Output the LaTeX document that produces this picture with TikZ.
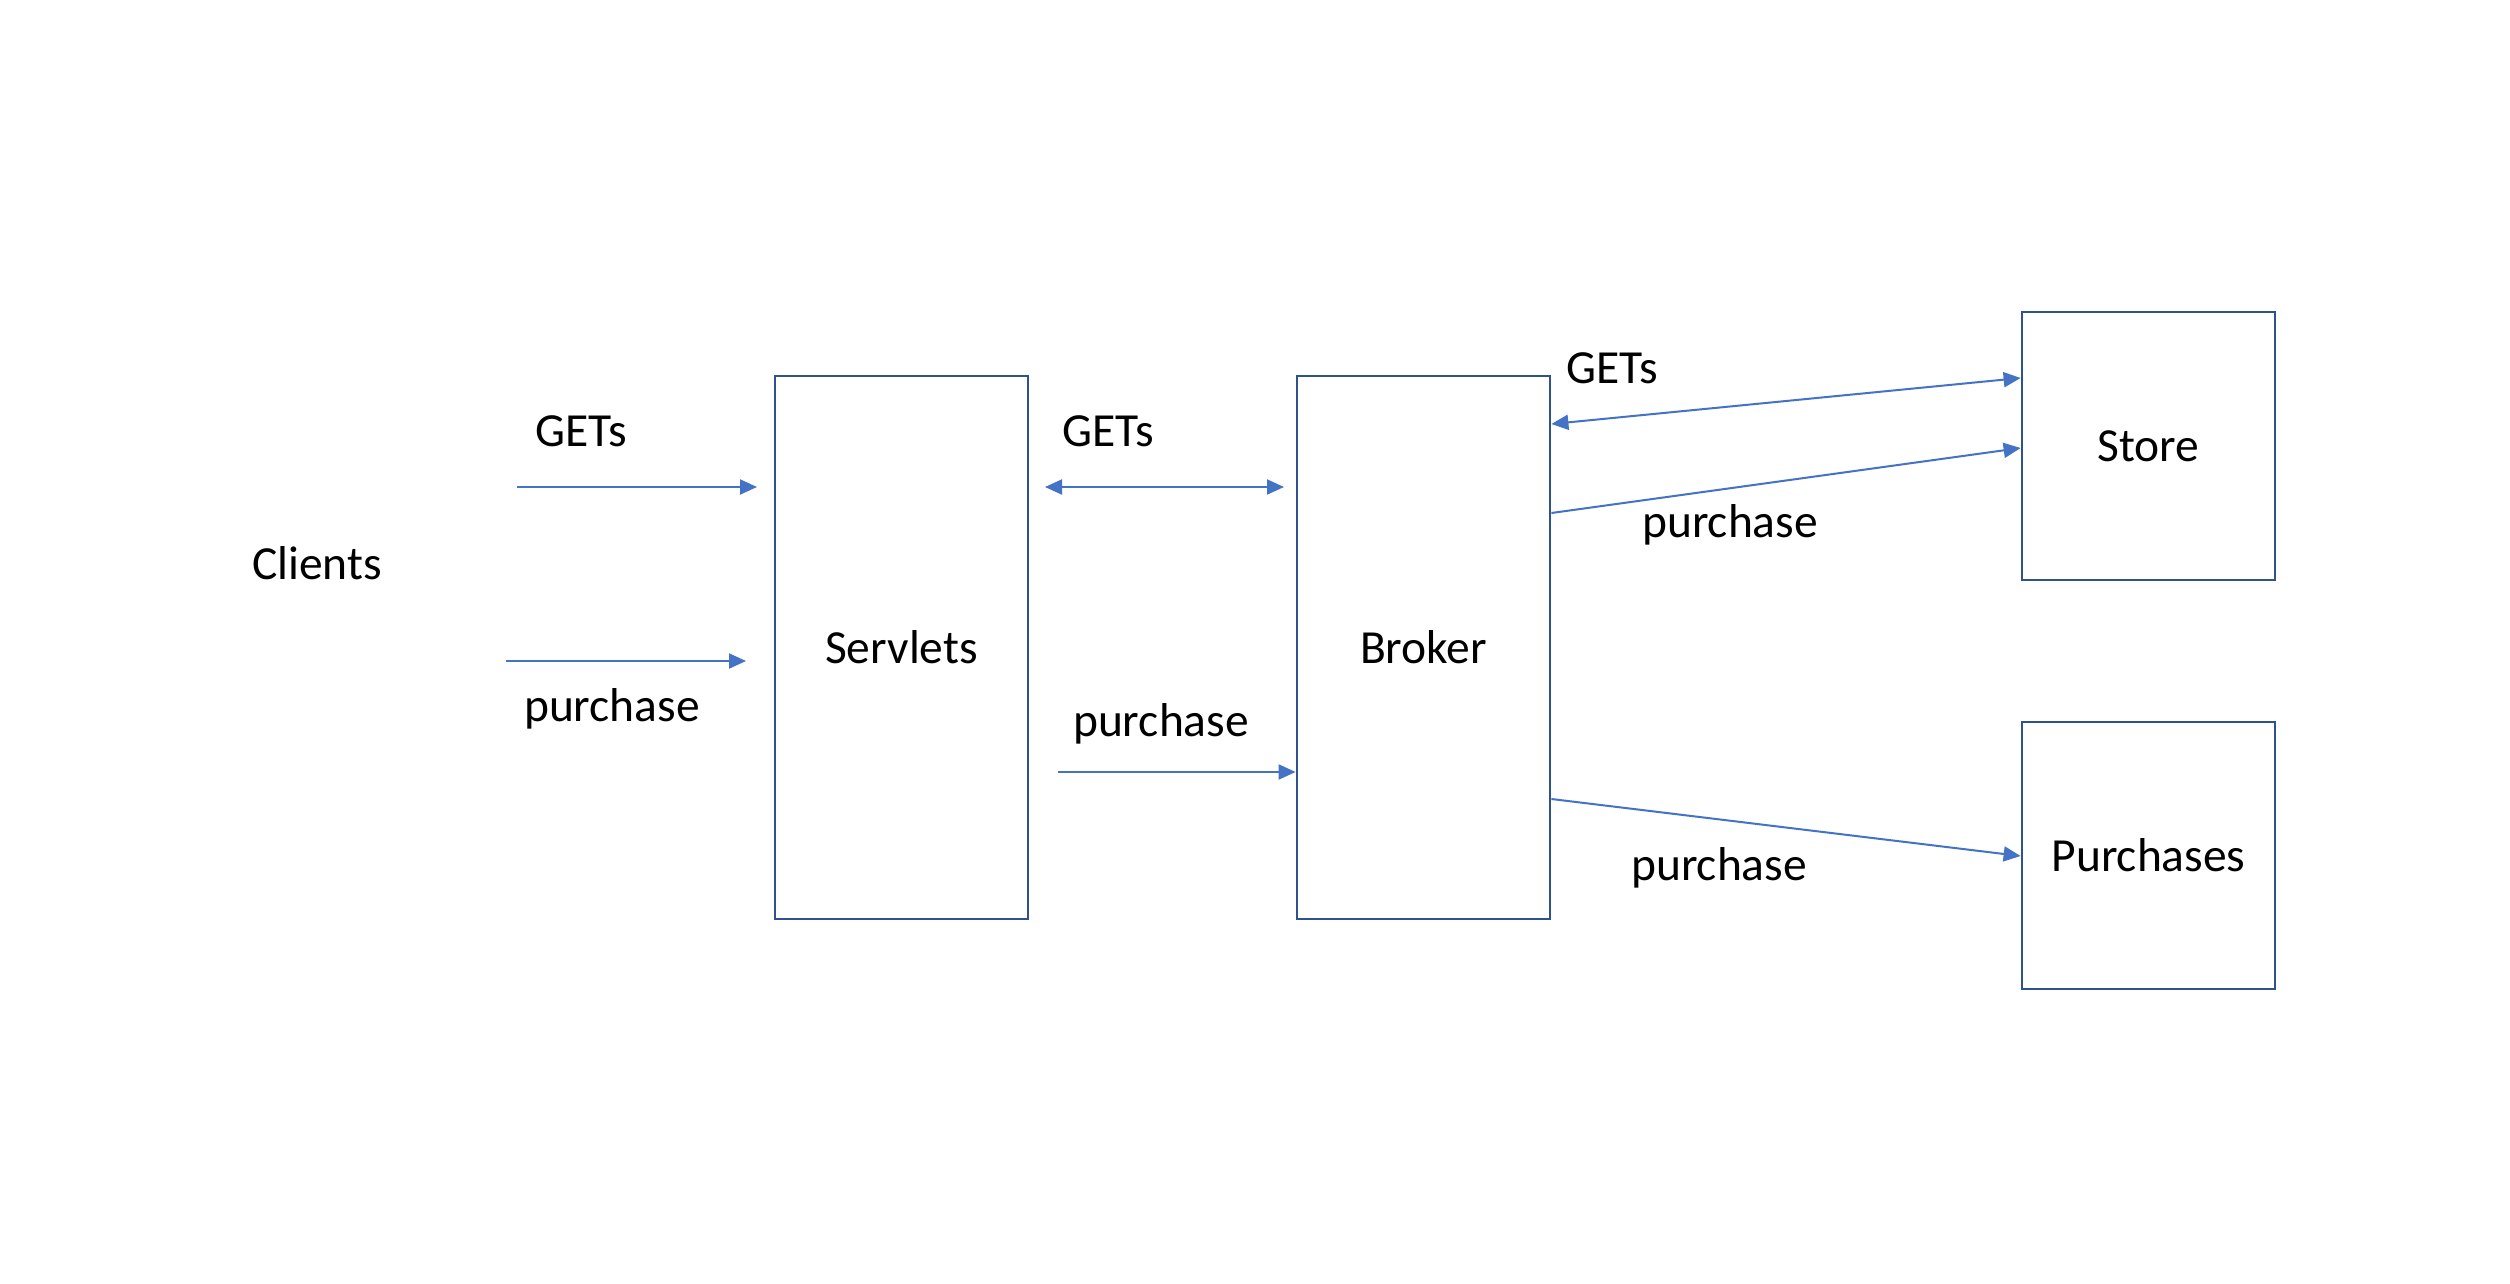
\documentclass[tikz,border=0pt]{standalone}
\usepackage{fontspec}
\setmainfont{Carlito}
\usetikzlibrary{arrows.meta}
\definecolor{boxblue}{HTML}{2F528F}
\definecolor{arrblue}{HTML}{4472C4}
\begin{document}
\begin{tikzpicture}[x=1pt,y=-1pt,
  box/.style={draw=boxblue,line width=2.8pt,rectangle,inner sep=0pt,font=\fontsize{47.5}{56}\selectfont},
  lbl/.style={inner sep=0pt,font=\fontsize{47.5}{56}\selectfont,text=black},
  conn/.style={draw=arrblue,line width=2pt,-{Triangle[length=17pt,width=15pt]}},
  conn2/.style={draw=arrblue,line width=2pt,{Triangle[length=17pt,width=15pt]}-{Triangle[length=17pt,width=15pt]}}]
\fill[white] (0,0) rectangle (2510,1284);
\useasboundingbox (0,0) rectangle (2510,1284);
\node[box,minimum width=253pt,minimum height=543pt] (servlets) at (901.5,647.5) {Servlets};
\node[box,minimum width=253pt,minimum height=543pt] (broker) at (1423.5,647.5) {Broker};
\node[box,minimum width=253pt,minimum height=268pt] (store) at (2148.5,446) {Store};
\node[box,minimum width=253pt,minimum height=267pt] (purchases) at (2148.5,855.5) {Purchases};
\node[lbl] (clients) at (317,563) {Clients};
% free ends
\coordinate (c1) at (517,487);
\coordinate (c1e) at (757,487);
\coordinate (c2) at (506,661);
\coordinate (c2e) at (746,661);
\coordinate (g1) at (1045,487);
\coordinate (g2) at (1284,487);
\coordinate (p1) at (1058,772);
% connectors
\draw[conn] (c1) -- (c1e);
\draw[conn] (c2) -- (c2e);
\draw[conn2] (g1) -- (g2);
\draw[conn] (p1) -- (broker.west |- p1);
\draw[conn2] (broker.east |- 0,424) -- (store.west |- 0,378);
\draw[conn] (broker.east |- 0,513) -- (store.west |- 0,448);
\draw[conn] (broker.east |- 0,799) -- (purchases.west |- 0,856);
% labels
\node[lbl] (l1) at (581,431) {GETs};
\node[lbl] (l2) at (612,709) {purchase};
\node[lbl] (l3) at (1108,431) {GETs};
\node[lbl] (l4) at (1161,724) {purchase};
\node[lbl] (l5) at (1612,368) {GETs};
\node[lbl] (l6) at (1730,525) {purchase};
\node[lbl] (l7) at (1719,868) {purchase};
\end{tikzpicture}
\end{document}
